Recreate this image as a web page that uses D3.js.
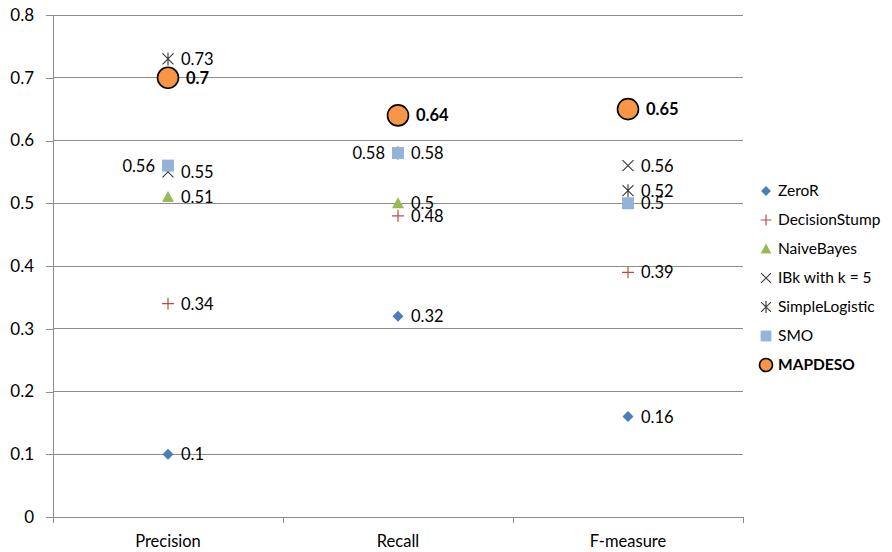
<!DOCTYPE html>
<html>
<head>
<meta charset="utf-8">
<script src="https://cdn.jsdelivr.net/npm/d3@7"></script>
<style>
  html, body { margin: 0; padding: 0; background: #fff; }
  svg { display: block; font-family: "Lato", "Open Sans", sans-serif; }
</style>
</head>
<body>
<svg id="chart" width="892" height="552"></svg>
<script>
// Evaluation measures on the x axis
const categories = ["Precision", "Recall", "F-measure"];

// Classifier names, in legend order
const seriesNames = ["ZeroR", "DecisionStump", "NaiveBayes", "IBk with k = 5", "SimpleLogistic", "SMO", "MAPDESO"];

// Scores per classifier (Precision, Recall, F-measure)
const zeroR          = [0.10, 0.32, 0.16];
const decisionStump  = [0.34, 0.48, 0.39];
const naiveBayes     = [0.51, 0.50, 0.50];
const ibk5           = [0.55, 0.58, 0.56];
const simpleLogistic = [0.73, 0.58, 0.52];
const smo            = [0.56, 0.58, 0.50];
const mapdeso        = [0.70, 0.64, 0.65];

// Which side each point's value label sits on (null: hidden under another label)
const labelSides = {
  "ZeroR":          ["r", "r", "r"],
  "DecisionStump":  ["r", "r", "r"],
  "NaiveBayes":     ["r", "r", null],
  "IBk with k = 5": ["r", "r", "r"],
  "SimpleLogistic": ["r", null, "r"],
  "SMO":            ["l", "l", "r"],
  "MAPDESO":        ["r", "r", "r"]
};

const yTicks = [0, 0.1, 0.2, 0.3, 0.4, 0.5, 0.6, 0.7, 0.8];

const seriesValues = [zeroR, decisionStump, naiveBayes, ibk5, simpleLogistic, smo, mapdeso];

const styles = {
  "ZeroR":          { shape: "diamond", fill: "#4A7EBB" },
  "DecisionStump":  { shape: "plus", stroke: "#BE4B48" },
  "NaiveBayes":     { shape: "triangle", fill: "#98B954" },
  "IBk with k = 5": { shape: "x", stroke: "#3a3a3a" },
  "SimpleLogistic": { shape: "star", stroke: "#3a3a3a" },
  "SMO":            { shape: "square", fill: "#95B3D7" },
  "MAPDESO":        { shape: "circle", fill: "#F79646", stroke: "#000" }
};

const svg = d3.select("#chart");
const margin = { left: 53, right: 149, top: 15, bottom: 35 };
const W = 892, H = 552;

const x = d3.scaleBand().domain(categories).range([margin.left, W - margin.right]);
const y = d3.scaleLinear().domain([0, 0.8]).range([H - margin.bottom, margin.top]);

// Horizontal gridlines
svg.append("g")
  .selectAll("line")
  .data(yTicks.filter(t => t > 0))
  .join("line")
  .attr("x1", margin.left).attr("x2", W - margin.right)
  .attr("y1", d => y(d)).attr("y2", d => y(d))
  .attr("stroke", "#8c8c8c").attr("stroke-width", 1)
  .attr("shape-rendering", "crispEdges");

// Y axis
const yAxis = svg.append("g")
  .attr("transform", `translate(${margin.left},0)`)
  .call(d3.axisLeft(y).tickValues(yTicks).tickFormat(d => d === 0 ? "0" : d3.format(".1f")(d)).tickSize(7).tickPadding(12));
yAxis.select(".domain").attr("stroke", "#8c8c8c").attr("shape-rendering", "crispEdges");
yAxis.selectAll(".tick line").attr("stroke", "#8c8c8c").attr("shape-rendering", "crispEdges");
yAxis.selectAll("text").attr("font-size", 17).attr("fill", "#000").style("font-family", "Lato, sans-serif");

// X axis: ticks at category boundaries
const bounds = categories.map(c => x(c)).concat([x(categories[categories.length - 1]) + x.bandwidth()]);
const xg = svg.append("g");
xg.append("line")
  .attr("x1", margin.left).attr("x2", W - margin.right)
  .attr("y1", y(0)).attr("y2", y(0))
  .attr("stroke", "#8c8c8c").attr("shape-rendering", "crispEdges");
xg.selectAll("line.tk").data(bounds).join("line").attr("class", "tk")
  .attr("x1", d => d).attr("x2", d => d)
  .attr("y1", y(0)).attr("y2", y(0) + 6)
  .attr("stroke", "#8c8c8c").attr("shape-rendering", "crispEdges");
xg.selectAll("text").data(categories).join("text")
  .attr("x", d => x(d) + x.bandwidth() / 2)
  .attr("y", y(0) + 30)
  .attr("text-anchor", "middle")
  .attr("font-size", 16.5)
  .text(d => d);

// Marker drawing
function drawMarker(g, name, cx, cy, scale) {
  const s = styles[name];
  const k = scale || 1;
  if (s.shape === "diamond") {
    const r = 5.5 * k;
    g.append("path").attr("d", `M${cx},${cy - r}L${cx + r},${cy}L${cx},${cy + r}L${cx - r},${cy}Z`).attr("fill", s.fill);
  } else if (s.shape === "plus") {
    const r = 6 * k;
    g.append("path").attr("d", `M${cx - r},${cy}H${cx + r}M${cx},${cy - r}V${cy + r}`).attr("stroke", s.stroke).attr("stroke-width", 1.2).attr("fill", "none");
  } else if (s.shape === "triangle") {
    const r = 6 * k;
    g.append("path").attr("d", `M${cx},${cy - r}L${cx + r},${cy + r * 0.85}L${cx - r},${cy + r * 0.85}Z`).attr("fill", s.fill);
  } else if (s.shape === "x") {
    const r = 5.5 * k;
    g.append("path").attr("d", `M${cx - r},${cy - r}L${cx + r},${cy + r}M${cx + r},${cy - r}L${cx - r},${cy + r}`).attr("stroke", s.stroke).attr("stroke-width", 1.1).attr("fill", "none");
  } else if (s.shape === "star") {
    const r = 5.5 * k;
    g.append("path").attr("d", `M${cx - r},${cy - r}L${cx + r},${cy + r}M${cx + r},${cy - r}L${cx - r},${cy + r}M${cx},${cy - r - 1}V${cy + r + 1}`).attr("stroke", s.stroke).attr("stroke-width", 1.1).attr("fill", "none");
  } else if (s.shape === "square") {
    const r = 6 * k;
    g.append("rect").attr("x", cx - r).attr("y", cy - r).attr("width", 2 * r).attr("height", 2 * r).attr("fill", s.fill);
  } else if (s.shape === "circle") {
    g.append("circle").attr("cx", cx).attr("cy", cy).attr("r", 10.5 * k).attr("fill", s.fill).attr("stroke", s.stroke).attr("stroke-width", 1.6);
  }
}

// Points
const pts = svg.append("g");
seriesNames.forEach((name, i) => {
  seriesValues[i].forEach((v, j) => {
    drawMarker(pts, name, x(categories[j]) + x.bandwidth() / 2, y(v));
  });
});

// Value labels
const labels = svg.append("g");
seriesNames.forEach((name, i) => {
  seriesValues[i].forEach((v, j) => {
    const side = labelSides[name][j];
    if (!side) return;
    const cx = x(categories[j]) + x.bandwidth() / 2;
    const bold = name === "MAPDESO";
    const off = bold ? 18 : 13;
    labels.append("text")
      .attr("x", side === "r" ? cx + off : cx - off)
      .attr("y", y(v) + 6)
      .attr("text-anchor", side === "r" ? "start" : "end")
      .attr("font-size", 16.5)
      .attr("font-weight", bold ? "bold" : "normal")
      .text(String(+v.toFixed(2)));
  });
});

// Legend
const legend = svg.append("g");
seriesNames.forEach((name, i) => {
  const ly = 191 + i * 29;
  drawMarker(legend, name, 766, ly, name === "MAPDESO" ? 0.62 : 0.9);
  legend.append("text")
    .attr("x", 778).attr("y", ly + 5)
    .attr("font-size", 15.5)
    .attr("font-weight", name === "MAPDESO" ? "bold" : "normal")
    .text(name);
});
</script>
</body>
</html>
